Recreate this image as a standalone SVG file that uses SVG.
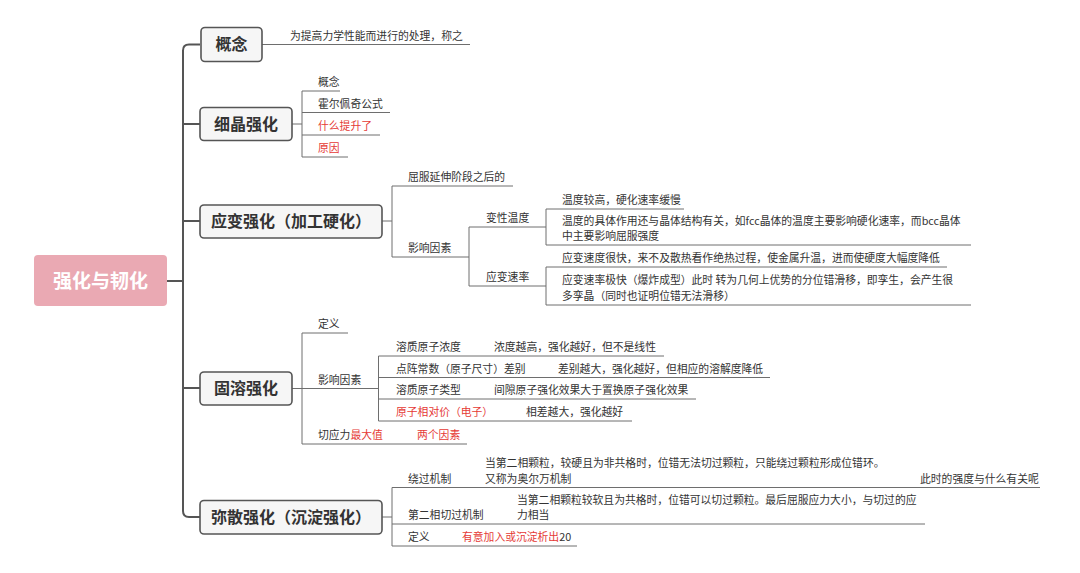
<svg xmlns="http://www.w3.org/2000/svg" width="1080" height="573" viewBox="0 0 1080 573">
<style>
.bg{fill:#ffffff}
.box{fill:#f6f6f6;stroke:#555555;stroke-width:1.6}
.bt{font-family:"Noto Sans CJK SC","Noto Sans",sans-serif;font-size:16px;font-weight:bold;fill:#333333;text-anchor:middle}
.rt{font-family:"Noto Sans CJK SC","Noto Sans",sans-serif;font-size:19px;font-weight:bold;fill:#ffffff;text-anchor:middle}
.t{font-family:"Noto Sans CJK SC","Noto Sans",sans-serif;font-size:10.8px;fill:#333333}
.r{fill:#e53935}
.trunk{fill:none;stroke:#555555;stroke-width:2}
.ln{fill:none;stroke:#6e6e6e;stroke-width:1}
</style>
<rect class="bg" x="0" y="0" width="1080" height="573"/>

<g id="connectors">
  <path class="trunk" d="M167,281 H183 M200,44.5 H189 Q183,44.5 183,50.5 V511 Q183,517 189,517 H200 M183,124 H200 M183,221 H200 M183,388 H200"/>
  <path class="ln" d="M262,44.5 H470"/>
  <path class="ln" d="M292,124 H302 M302,91 V157 M302,91 H340 M302,112.5 H390 M302,135 H380 M302,157 H348"/>
  <path class="ln" d="M382,221 H392 M392,186 V257 M392,186 H513 M392,257 H469 M469,227 V286 M469,227 H546 M469,286 H546 M546,209 V245 M546,209 H684 M546,245 H971 M546,267 V305 M546,267 H947 M546,305 H971"/>
  <path class="ln" d="M292,388.5 H302 M302,333 V444 M302,333 H348 M302,388.5 H378.5 M302,444 H467 M378.5,356 V421 M378.5,356 H664 M378.5,377.5 H770 M378.5,399 H696 M378.5,421 H632"/>
  <path class="ln" d="M382,517 H392 M392,487.5 V546 M392,487.5 H1040 M392,524 H925 M392,546 H577"/>
</g>

<g id="root">
  <rect x="34" y="255" width="133" height="51" rx="4" fill="#eaa9b3"/>
  <text class="rt" x="100.5" y="287.5">强化与韧化</text>
</g>

<g id="node-gainian">
  <rect class="box" x="201" y="27.5" width="61" height="34" rx="4"/>
  <text class="bt" x="231.5" y="50">概念</text>
  <text class="t" x="290" y="39.5">为提高力学性能而进行的处理，称之</text>
</g>

<g id="node-xijing">
  <rect class="box" x="200" y="107.5" width="92" height="33" rx="4"/>
  <text class="bt" x="246" y="129.5">细晶强化</text>
  <text class="t" x="318" y="86">概念</text>
  <text class="t" x="318" y="107.5">霍尔佩奇公式</text>
  <text class="t r" x="318" y="130">什么提升了</text>
  <text class="t r" x="318" y="152">原因</text>
</g>

<g id="node-yingbian">
  <rect class="box" x="200" y="205" width="182" height="33" rx="4"/>
  <text class="bt" x="291" y="227">应变强化（加工硬化）</text>
  <text class="t" x="408" y="181">屈服延伸阶段之后的</text>
  <text class="t" x="408" y="252">影响因素</text>
  <text class="t" x="486" y="222">变性温度</text>
  <text class="t" x="486" y="281">应变速率</text>
  <text class="t" x="562" y="204">温度较高，硬化速率缓慢</text>
  <text class="t" x="562" y="225">温度的具体作用还与晶体结构有关，如fcc晶体的温度主要影响硬化速率，而bcc晶体</text>
  <text class="t" x="562" y="240">中主要影响屈服强度</text>
  <text class="t" x="562" y="262">应变速度很快，来不及散热看作绝热过程，使金属升温，进而使硬度大幅度降低</text>
  <text class="t" x="562" y="284">应变速率极快（爆炸成型）此时 转为几何上优势的分位错滑移，即孪生，会产生很</text>
  <text class="t" x="562" y="299.5">多孪晶（同时也证明位错无法滑移）</text>
</g>

<g id="node-gurong">
  <rect class="box" x="200" y="372" width="92" height="33" rx="4"/>
  <text class="bt" x="246" y="394">固溶强化</text>
  <text class="t" x="318" y="328">定义</text>
  <text class="t" x="318" y="383.5">影响因素</text>
  <text class="t" x="318" y="439">切应力<tspan class="r">最大值</tspan></text>
  <text class="t r" x="417" y="439">两个因素</text>
  <text class="t" x="396" y="351">溶质原子浓度</text>
  <text class="t" x="494" y="351">浓度越高，强化越好，但不是线性</text>
  <text class="t" x="396" y="372.5">点阵常数（原子尺寸）差别</text>
  <text class="t" x="558" y="372.5">差别越大，强化越好，但相应的溶解度降低</text>
  <text class="t" x="396" y="394">溶质原子类型</text>
  <text class="t" x="494" y="394">间隙原子强化效果大于置换原子强化效果</text>
  <text class="t r" x="396" y="416">原子相对价（电子）</text>
  <text class="t" x="526" y="416">相差越大，强化越好</text>
</g>

<g id="node-misan">
  <rect class="box" x="200" y="500.5" width="182" height="33.5" rx="4"/>
  <text class="bt" x="291" y="523">弥散强化（沉淀强化）</text>
  <text class="t" x="408" y="482.5">绕过机制</text>
  <text class="t" x="485" y="467">当第二相颗粒，较硬且为非共格时，位错无法切过颗粒，只能绕过颗粒形成位错环。</text>
  <text class="t" x="485" y="482.5">又称为奥尔万机制</text>
  <text class="t" x="920" y="482.5">此时的强度与什么有关呢</text>
  <text class="t" x="408" y="519">第二相切过机制</text>
  <text class="t" x="517" y="503.5">当第二相颗粒较软且为共格时，位错可以切过颗粒。最后屈服应力大小，与切过的应</text>
  <text class="t" x="517" y="519">力相当</text>
  <text class="t" x="408" y="541">定义</text>
  <text class="t" x="462" y="541"><tspan class="r">有意加入或沉淀析出</tspan>20</text>
</g>
</svg>
